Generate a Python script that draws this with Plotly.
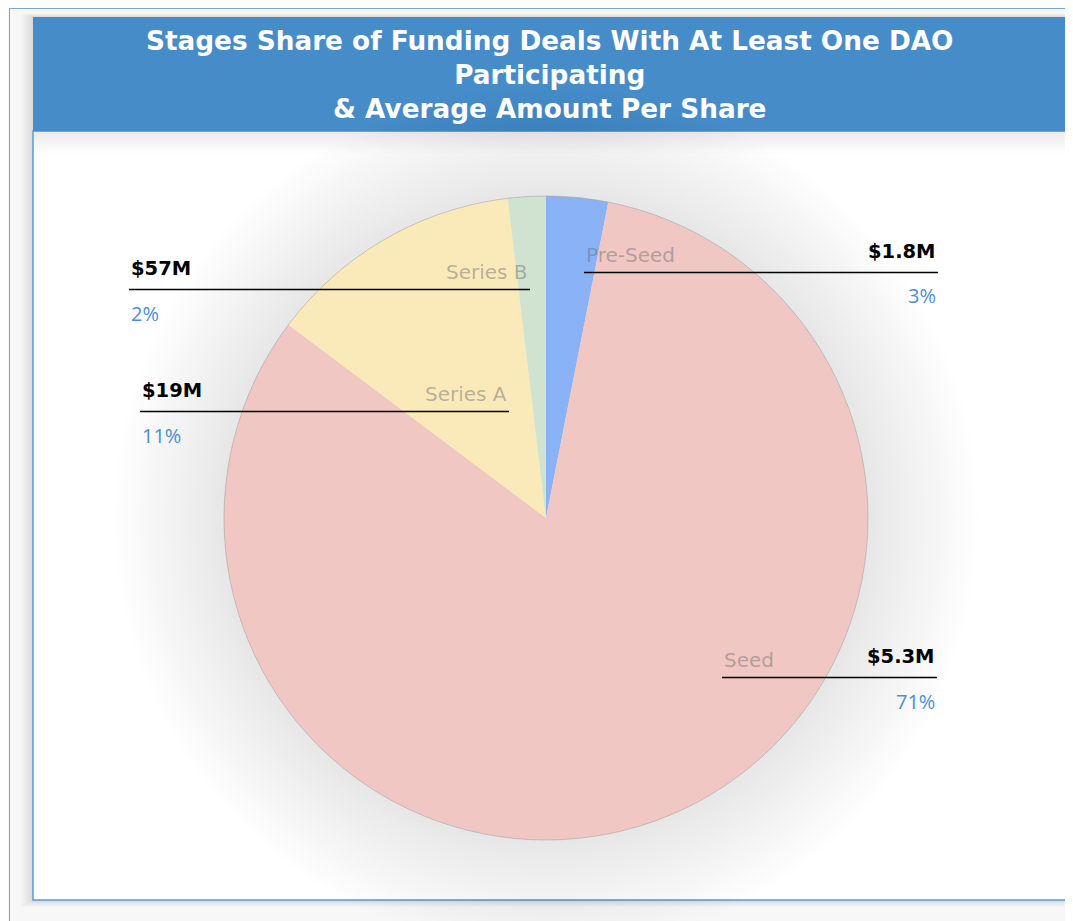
import plotly.graph_objects as go

# ---------------- data ----------------
stages = ["Pre-Seed", "Seed", "Series A", "Series B"]
share_of_deals = [2.7, 71.5, 11.2, 1.65]          # slice sizes (share of all deals, %)
share_labels = ["3%", "71%", "11%", "2%"]
avg_amount_labels = ["$1.8M", "$5.3M", "$19M", "$57M"]
slice_colors = ["#8ab2f7", "#f0c7c3", "#fbeab9", "#d0e3d1"]

title_lines = ["Stages Share of Funding Deals With At Least One DAO",
               "Participating", "& Average Amount Per Share"]

# ---------------- layout helpers ----------------
OFF = 8                       # page body margin
W, H = 1073 - OFF, 921 - OFF  # figure size
def px(x): return (x - OFF) / W
def py(y): return 1 - (y - OFF) / H

CX, CY, R = 546, 518, 322   # pie centre / radius in page pixels

# label layout: (side, line x0, line x1, line y)
label_layout = {
    "Pre-Seed": ("right", 584, 938, 272),
    "Seed":     ("right", 722, 937, 677),
    "Series A": ("left", 140, 509, 411),
    "Series B": ("left", 129, 530, 289),
}

fig = go.Figure()
fig.add_trace(go.Pie(
    labels=stages, values=share_of_deals, sort=False, direction="clockwise",
    rotation=0, textinfo="none", hole=0,
    marker=dict(colors=slice_colors, line=dict(width=0)),
    domain=dict(x=[px(CX - R), px(CX + R)], y=[py(CY + R), py(CY - R)]),
    showlegend=False, hoverinfo="label+percent",
))

shapes = []
# outer frame lines
shapes.append(dict(type="line", xref="paper", yref="paper", x0=px(9), x1=px(1073), y0=py(8.5), y1=py(8.5),
                   line=dict(color="#7aa6d8", width=1), layer="below"))
shapes.append(dict(type="line", xref="paper", yref="paper", x0=px(9.5), x1=px(9.5), y0=py(8), y1=py(921),
                   line=dict(color="#7aa6d8", width=1), layer="below"))
# soft shadow around the card
for i in range(10):
    d = 12 - i * 1.2
    shapes.append(dict(type="rect", xref="paper", yref="paper",
                       x0=px(33 - d), x1=px(1066 + d), y0=py(900 + d * 0.6), y1=py(17 - d * 0.3),
                       fillcolor="rgba(0,0,0,0.011)", line=dict(width=0), layer="below"))
# white card
shapes.append(dict(type="rect", xref="paper", yref="paper", x0=px(33), x1=px(1066), y0=py(900), y1=py(131),
                   fillcolor="white", line=dict(color="#5b9bd5", width=1.5), layer="below"))
# title bar shadow (below the bar)
for i in range(10):
    d = 22 - i * 2.2
    shapes.append(dict(type="rect", xref="paper", yref="paper", x0=px(34), x1=px(1065), y0=py(131 + d), y1=py(131),
                       fillcolor="rgba(0,0,0,0.007)", line=dict(width=0), layer="below"))
# title bar
shapes.append(dict(type="rect", xref="paper", yref="paper", x0=px(33), x1=px(1066), y0=py(131), y1=py(17),
                   fillcolor="#468cc8", line=dict(width=0), layer="below"))
# pie shadow
for i in range(24):
    r = R + 110 - i * 4.6
    shapes.append(dict(type="circle", xref="paper", yref="paper",
                       xsizemode="pixel", ysizemode="pixel", xanchor=px(CX), yanchor=py(CY),
                       x0=-r, x1=r, y0=-r, y1=r,
                       fillcolor="rgba(0,0,0,0.0042)", line=dict(width=0), layer="below"))
# pie outline
shapes.append(dict(type="circle", xref="paper", yref="paper",
                   xsizemode="pixel", ysizemode="pixel", xanchor=px(CX), yanchor=py(CY),
                   x0=-R, x1=R, y0=-R, y1=R,
                   line=dict(color="rgba(150,150,150,0.6)", width=0.8), layer="above"))

annotations = []
for stage, pct, amt in zip(stages, share_labels, avg_amount_labels):
    side, x0, x1, ly = label_layout[stage]
    shapes.append(dict(type="line", xref="paper", yref="paper", x0=px(x0), x1=px(x1),
                       y0=py(ly + 0.5), y1=py(ly + 0.5),
                       line=dict(color="black", width=1.3), layer="above"))
    if side == "right":
        cat_x, cat_anchor, val_x, val_anchor = x0, "left", x1, "right"
    else:
        cat_x, cat_anchor, val_x, val_anchor = x1, "right", x0, "left"
    annotations.append(dict(x=px(cat_x), y=py(ly - 17), xref="paper", yref="paper", text=stage,
                            showarrow=False, xanchor=cat_anchor, yanchor="middle",
                            font=dict(family="DejaVu Sans", size=20, color="rgba(110,110,110,0.48)")))
    annotations.append(dict(x=px(val_x), y=py(ly - 21), xref="paper", yref="paper", text="<b>" + amt + "</b>",
                            showarrow=False, xanchor=val_anchor, yanchor="middle",
                            font=dict(family="DejaVu Sans", size=19.5, color="black")))
    annotations.append(dict(x=px(val_x), y=py(ly + 24), xref="paper", yref="paper", text=pct,
                            showarrow=False, xanchor=val_anchor, yanchor="middle",
                            font=dict(family="Open Sans", size=20, color="#4a8fd6")))

annotations.append(dict(x=px(549.5), y=py(74.5), xref="paper", yref="paper",
                        text="<b>" + "<br>".join(title_lines) + "</b>",
                        showarrow=False, xanchor="center", yanchor="middle", align="center",
                        font=dict(family="DejaVu Sans", size=26.3, color="white")))

fig.update_layout(width=W, height=H, margin=dict(l=0, r=0, t=0, b=0),
                  paper_bgcolor="#f7f7f7", plot_bgcolor="#f7f7f7",
                  shapes=shapes, annotations=annotations)
fig.write_html("out.html")
